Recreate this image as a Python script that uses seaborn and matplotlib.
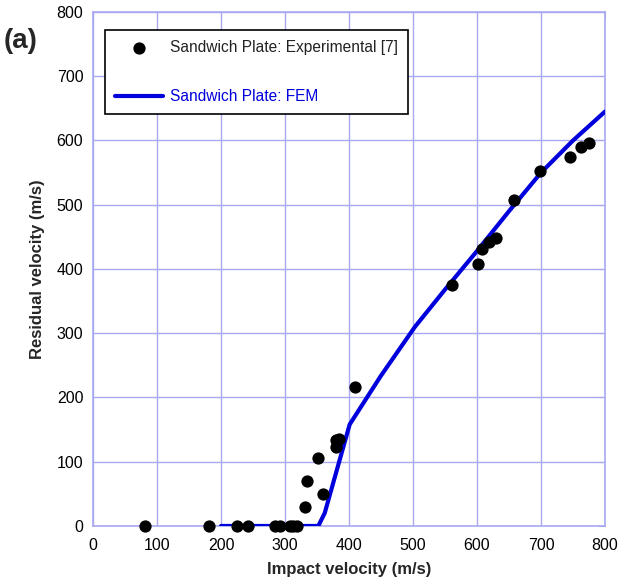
import numpy as np
import pandas as pd
import matplotlib
matplotlib.use("Agg")
import matplotlib.pyplot as plt
import seaborn as sns

# Experimental data
exp_impact = [82, 181, 225, 242, 285, 292, 308, 313, 319, 331, 334, 351, 359, 379, 379, 385, 409,
              561, 602, 608, 619, 629, 658, 699, 745, 762, 775]
exp_residual = [0, 0, 0, 0, 0, 0, 0, 0, 0, 30, 70, 106, 49, 123, 134, 135, 216,
                375, 408, 431, 442, 449, 507, 552, 574, 590, 596]

# FEM curve
fem_impact = [200, 352, 362, 401, 450, 503, 550, 600, 650, 700, 750, 800]
fem_residual = [0, 0, 20, 158, 234, 310, 368, 428, 490, 550, 600, 645]

sns.set_style("white")
plt.rcParams['font.family'] = ['Liberation Sans', 'DejaVu Sans']

fig = plt.figure(figsize=(6.38, 5.85), dpi=100)
ax = fig.add_axes([0.1458, 0.1009, 0.8025, 0.8786])

grid_c = '#a9a9f2'
exp_df = pd.DataFrame({'x': exp_impact, 'y': exp_residual})
fem_df = pd.DataFrame({'x': fem_impact, 'y': fem_residual})

sns.lineplot(data=fem_df, x='x', y='y', ax=ax, color='#0000dd', linewidth=3,
             sort=False, label='Sandwich Plate: FEM', zorder=3)
sns.scatterplot(data=exp_df, x='x', y='y', ax=ax, color='black', s=78,
                edgecolor='black', linewidth=0, label='Sandwich Plate: Experimental [7]',
                zorder=4, clip_on=False)

ax.set_xlim(0, 800)
ax.set_ylim(0, 800)
ax.set_xticks(np.arange(0, 801, 100))
ax.set_yticks(np.arange(0, 801, 100))
ax.grid(True, color=grid_c, linewidth=1)
ax.set_axisbelow(True)
for s in ax.spines.values():
    s.set_color(grid_c)
    s.set_linewidth(1.2)
ax.tick_params(direction='in', length=5, color=grid_c, labelsize=11.5,
               top=True, right=True, labelcolor='black')
ax.tick_params(axis='x', pad=9)
ax.tick_params(axis='y', pad=7)

ax.set_xlabel('Impact velocity (m/s)', fontsize=12, fontweight='bold', labelpad=6)
ax.set_ylabel('Residual velocity (m/s)', fontsize=12, fontweight='bold', labelpad=8)

handles, labels = ax.get_legend_handles_labels()
order = [1, 0]
leg = ax.legend([handles[i] for i in order], [labels[i] for i in order],
                loc='upper left', bbox_to_anchor=(0.0234, 0.965), borderaxespad=0,
                fontsize=11.2, frameon=True, fancybox=False, edgecolor='black',
                framealpha=1, borderpad=0.65, labelspacing=2.2, handlelength=3.1,
                handletextpad=0.4)
leg.get_frame().set_linewidth(1.2)
leg.get_texts()[0].set_color('#222222')
leg.get_texts()[1].set_color('#0000dd')

fig.text(0.006, 0.918, '(a)', fontsize=20, fontweight='bold')

fig.savefig('out.png', dpi=100)
